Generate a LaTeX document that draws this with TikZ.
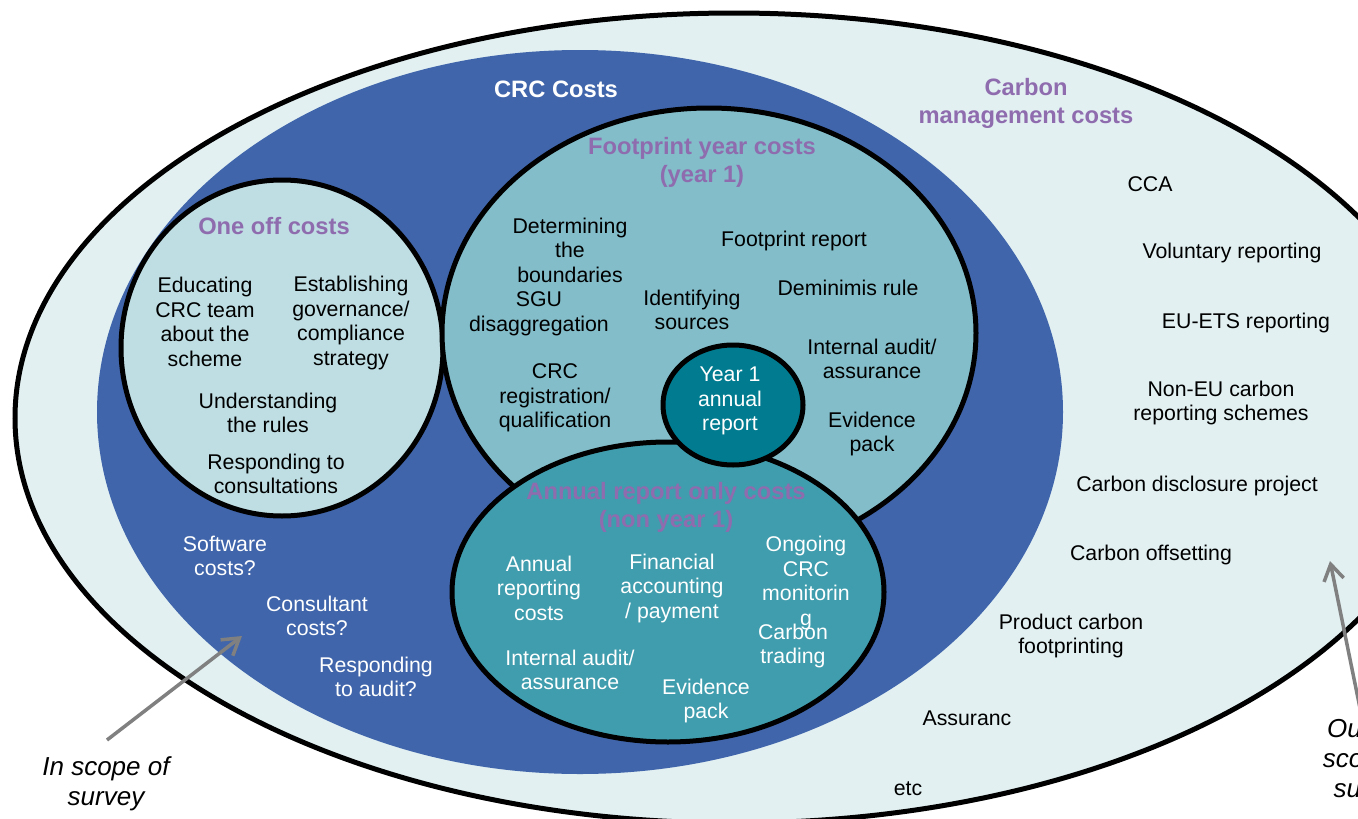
\documentclass[tikz,border=0pt]{standalone}
\usepackage{fontspec}
\setmainfont{Liberation Sans}
\usetikzlibrary{arrows.meta}
\definecolor{outerfill}{RGB}{226,240,242}
\definecolor{crcblue}{RGB}{64,101,170}
\definecolor{oneofffill}{RGB}{190,222,227}
\definecolor{fpfill}{RGB}{130,189,201}
\definecolor{annfill}{RGB}{64,157,173}
\definecolor{yearfill}{RGB}{0,123,143}
\definecolor{ttlpurple}{RGB}{142,108,174}
\definecolor{arrowgray}{RGB}{128,128,128}
\begin{document}
\begin{tikzpicture}[x=1pt,y=-1pt,
  body/.style={font=\fontsize{21.3}{24.5}\selectfont, align=center, inner sep=0pt},
  ttl/.style={font=\fontsize{23.7}{28}\selectfont\bfseries, align=center, inner sep=0pt},
  purp/.style={text=ttlpurple},
  wt/.style={text=white},
  itl/.style={font=\fontsize{26}{30}\selectfont\itshape, align=center, inner sep=0pt},
  ring/.style={draw=black, line width=5pt},
  pointer/.style={draw=arrowgray, line width=3.5pt, -{Straight Barb[length=16pt,width=20pt]}}]
\useasboundingbox (0,0) rectangle (1358,819);
\fill[white] (0,0) rectangle (1358,819);
\clip (0,0) rectangle (1358,819);
% regions
\path[ring, fill=outerfill] (734,418) ellipse [x radius=719pt, y radius=405pt];
\fill[crcblue] (580,412) ellipse [x radius=483pt, y radius=362pt];
\path[ring, fill=oneofffill] (282,348) ellipse [x radius=161pt, y radius=168pt];
\path[ring, fill=fpfill] (709,333) ellipse [x radius=267pt, y radius=225pt];
\path[ring, fill=annfill] (668,592) ellipse [x radius=216pt, y radius=150pt];
\path[ring, fill=yearfill] (733,405) ellipse [x radius=70pt, y radius=60pt];
% titles
\node[ttl, wt] (crc) at (556,89) {CRC Costs};
\node[ttl, purp] (cmc) at (1026,103) {Carbon\\management costs};
\node[ttl, purp] (oneoff) at (274,226) {One off costs};
\node[ttl, purp] (fpy) at (702,162) {Footprint year costs\\(year 1)};
\node[ttl, purp] (aro) at (666,507) {Annual report only costs\\(non year 1)};
% one off
\node[body] (educ) at (205,322) {Educating\\CRC team\\about the\\scheme};
\node[body] (estab) at (351,323) {Establishing\\governance/\\compliance\\strategy};
\node[body] (under) at (268,413) {Understanding\\the rules};
\node[body] (respc) at (276,474) {Responding to\\consultations};
% footprint
\node[body] (determ) at (570,250) {Determining\\the\\boundaries};
\node[body] (sgu) at (539,314) {SGU\\disaggregation};
\node[body] (ident) at (692,310) {Identifying\\sources};
\node[body] (crcreg) at (555,398) {CRC\\registration/\\qualification};
\node[body] (fprep) at (794,241) {Footprint report};
\node[body] (demin) at (848,288) {Deminimis rule};
\node[body] (intfp) at (872,359) {Internal audit/\\assurance};
\node[body] (evfp) at (872,434) {Evidence\\pack};
\node[body, wt] (year1) at (730,401) {Year 1\\annual\\report};
% annual
\node[body, wt] (annrep) at (539,588) {Annual\\reporting\\costs};
\node[body, wt] (finacc) at (672,588) {Financial\\accounting\\/ payment};
\node[body, wt] (ongo) at (806,583) {Ongoing\\CRC\\monitorin\\g};
\node[body, wt] (ctrade) at (793,646) {Carbon\\trading};
\node[body, wt] (intann) at (570,670) {Internal audit/\\assurance};
\node[body, wt] (evann) at (706,701) {Evidence\\pack};
% blue region
\node[body, wt] (soft) at (225,556) {Software\\costs?};
\node[body, wt] (consult) at (317,616) {Consultant\\costs?};
\node[body, wt] (respa) at (376,677) {Responding\\to audit?};
% carbon management
\node[body] (cca) at (1150,184) {CCA};
\node[body] (vol) at (1232,253) {Voluntary reporting};
\node[body] (euets) at (1246,323) {EU-ETS reporting};
\node[body] (noneu) at (1221,403) {Non-EU carbon\\reporting schemes};
\node[body] (cdp) at (1197,486) {Carbon disclosure project};
\node[body] (coff) at (1151,555) {Carbon offsetting};
\node[body] (pcf) at (1071,636) {Product carbon\\footprinting};
\node[body] (assur) at (967,718) {Assuranc};
\node[body] (etc) at (908,789) {etc};
% labels and pointers
\node[itl] (insc) at (106,784) {In scope of\\survey};
\node[itl] (outsc) at (1372,761) {Outside\\scope of\\survey};
\coordinate (intail) at (107,740);
\coordinate (intip) at (242,636);
\coordinate (outtail) at (1362,718);
\coordinate (outtip) at (1330,561);
\draw[pointer] (intail) -- (intip);
\draw[pointer] (outtail) -- (outtip);
\end{tikzpicture}
\end{document}
